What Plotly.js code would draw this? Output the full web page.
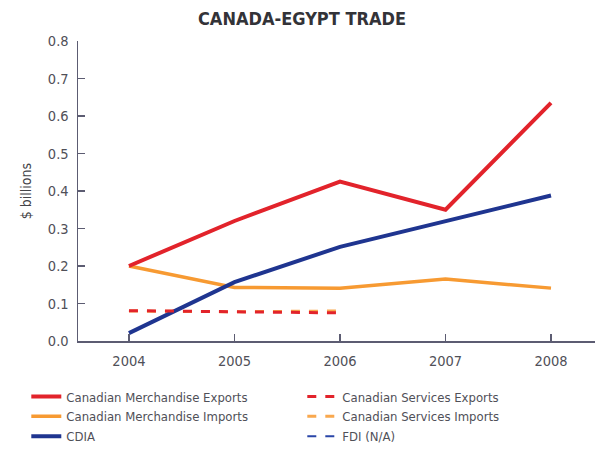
<!DOCTYPE html>
<html>
<head>
<meta charset="utf-8">
<script src="https://cdn.plot.ly/plotly-3.0.1.min.js"></script>
<style>html,body{margin:0;padding:0;background:#fff;}#chart{width:595px;height:466px;}</style>
</head>
<body>
<div id="chart"></div>
<script>
const years = [2004, 2005, 2006, 2007, 2008];
const servYears = [2004, 2005, 2006];
const merchExports = [0.20, 0.32, 0.425, 0.35, 0.635];
const merchImports = [0.20, 0.143, 0.141, 0.165, 0.141];
const cdia = [0.021, 0.157, 0.251, 0.32, 0.388];
const servExports = [0.081, 0.077, 0.075];
const servImports = [0.080, 0.078, 0.080];
const fdi = [null];
const yTicks = [0, 0.1, 0.2, 0.3, 0.4, 0.5, 0.6, 0.7, 0.8];
const yTickText = ['0.0','0.1','0.2','0.3','0.4','0.5','0.6','0.7','0.8'];

const RED = '#e2232b', ORANGE = '#f79a32', BLUE = '#1f3590';
const FONT = '"DejaVu Sans Condensed", "Liberation Sans Narrow", Arial, sans-serif';

// drawing order (bottom to top); legend order set with legendrank
const traces = [
  {name: 'Canadian Merchandise Imports', legendrank: 3, x: years, y: merchImports, mode: 'lines', line: {color: ORANGE, width: 3.5}},
  {name: 'Canadian Services Imports', legendrank: 4, x: servYears, y: servImports, mode: 'lines', line: {color: '#f9a84e', width: 3, dash: 'dash'}},
  {name: 'CDIA', legendrank: 5, x: years, y: cdia, mode: 'lines', line: {color: BLUE, width: 4}},
  {name: 'Canadian Services Exports', legendrank: 2, x: servYears, y: servExports, mode: 'lines', line: {color: RED, width: 3, dash: 'dash'}},
  {name: 'Canadian Merchandise Exports', legendrank: 1, x: years, y: merchExports, mode: 'lines', line: {color: RED, width: 4}},
  {name: 'FDI (N/A)', legendrank: 6, x: [2004], y: fdi, mode: 'lines', line: {color: '#2a46a8', width: 2, dash: 'dash'}}
];

const layout = {
  width: 595, height: 466,
  margin: {l: 78, r: 0, t: 41, b: 125},
  paper_bgcolor: '#ffffff', plot_bgcolor: '#ffffff',
  font: {family: FONT, color: '#505058', size: 13},
  title: {text: '<b>CANADA-EGYPT TRADE</b>', font: {family: FONT, size: 18, color: '#333338'}, x: 302/595, xanchor: 'center', xref: 'container', y: 1 - 19/466, yanchor: 'middle', yref: 'container'},
  showlegend: true,
  xaxis: {
    range: [2003.517, 2008.417], tickvals: years, ticktext: years.map(String),
    showgrid: false, zeroline: false, showline: true, linecolor: '#5c5c72', linewidth: 1.5,
    ticks: 'inside', ticklen: 7, tickcolor: '#5c5c72', tickwidth: 1.2, ticklabelstandoff: 6,
    tickfont: {family: FONT, size: 14.5, color: '#505058'}, fixedrange: true
  },
  yaxis: {
    range: [0, 0.8], tickvals: yTicks, ticktext: yTickText,
    showgrid: false, zeroline: false, showline: true, linecolor: '#5c5c72', linewidth: 1.5,
    ticks: 'inside', ticklen: 7, tickcolor: '#5c5c72', tickwidth: 1.2, ticklabelstandoff: 5,
    tickfont: {family: FONT, size: 14.5, color: '#505058'},
    title: {text: '$ billions', font: {family: FONT, size: 14, color: '#444448'}, standoff: 13}, fixedrange: true
  },
  legend: {
    orientation: 'h', x: -0.1, xanchor: 'left', y: -0.135, yanchor: 'top',
    entrywidth: 231, entrywidthmode: 'pixels', traceorder: 'normal',
    font: {family: FONT, size: 13, color: '#505058'}, bgcolor: 'rgba(0,0,0,0)'
  }
};

Plotly.newPlot('chart', traces, layout, {displayModeBar: false, staticPlot: true});
</script>
</body>
</html>
